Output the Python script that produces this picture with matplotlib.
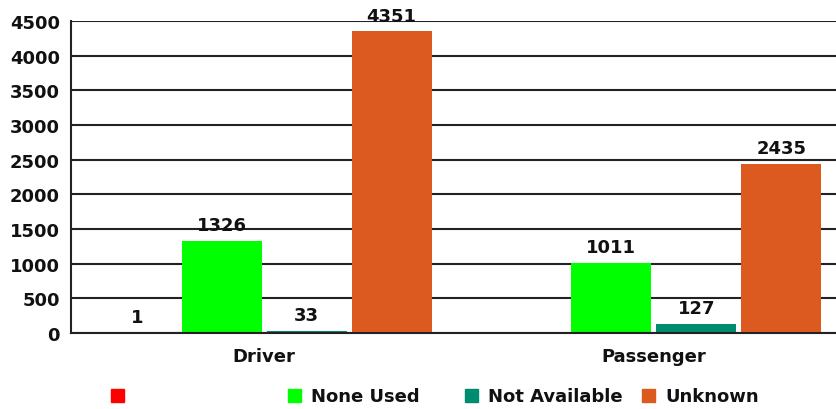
import matplotlib
matplotlib.use("Agg")
import matplotlib.pyplot as plt
import numpy as np
from matplotlib.patches import Rectangle

categories = ["Driver", "Passenger"]
series_names = ["", "None Used", "Not Available", "Unknown"]
series_colors = ["#FF0000", "#00FF00", "#008C6E", "#DC5A20"]
values = {
    "": [1, np.nan],
    "None Used": [1326, 1011],
    "Not Available": [33, 127],
    "Unknown": [4351, 2435],
}
yticks = [0, 500, 1000, 1500, 2000, 2500, 3000, 3500, 4000, 4500]

plt.rcParams['font.family'] = ['DejaVu Sans']
plt.rcParams['font.weight'] = 'bold'
txtcol = '#111111'
fs = 13

fig = plt.figure(figsize=(8.37, 4.10), dpi=100)
ax = fig.add_axes([0.0848, 0.185, 0.9152, 0.761])

x = np.arange(len(categories))
step = 0.218
width = 0.205
for i, name in enumerate(series_names):
    offs = (i - 1.5) * step
    vals = values[name]
    for j, v in enumerate(vals):
        if np.isnan(v):
            continue
        ax.bar(x[j] + offs, v, width=width, color=series_colors[i], zorder=3,
               edgecolor='none')
        ax.annotate(f"{int(v)}", (x[j] + offs, v), xytext=(0, 5),
                    textcoords='offset points', ha='center', va='bottom',
                    fontsize=fs, fontweight='bold', color=txtcol, zorder=4)

ax.set_xlim(-0.496, 1.47)
ax.set_ylim(0, 4500)
ax.set_yticks(yticks)
ax.set_yticklabels([str(t) for t in yticks], fontsize=fs, fontweight='bold', color=txtcol)
ax.set_xticks(x)
ax.set_xticklabels(categories, fontsize=fs, fontweight='bold', color=txtcol)
ax.tick_params(axis='both', length=0)
ax.tick_params(axis='y', pad=8)
ax.tick_params(axis='x', pad=10)
ax.yaxis.grid(True, color='#222222', linewidth=1.5, zorder=0)
ax.set_axisbelow(True)
for s in ['top', 'right']:
    ax.spines[s].set_visible(False)
ax.spines['left'].set_color('#222222')
ax.spines['left'].set_linewidth(1.5)
ax.spines['bottom'].set_color('#222222')
ax.spines['bottom'].set_linewidth(1.5)
ax.spines['bottom'].set_zorder(5)

# legend drawn manually in figure pixel coords
W, H = 837, 410
sq_x = [111, 288, 465, 642]
sq_y = 396
sq = 13
for i, name in enumerate(series_names):
    fig.patches.append(Rectangle(((sq_x[i]) / W, 1 - (sq_y + sq / 2) / H), sq / W, sq / H,
                                 transform=fig.transFigure, color=series_colors[i]))
    if name:
        fig.text((sq_x[i] + sq + 10) / W, 1 - (sq_y + 1) / H, name, ha='left', va='center',
                 fontsize=fs, fontweight='bold', color=txtcol)

fig.savefig("out.png", dpi=100)
